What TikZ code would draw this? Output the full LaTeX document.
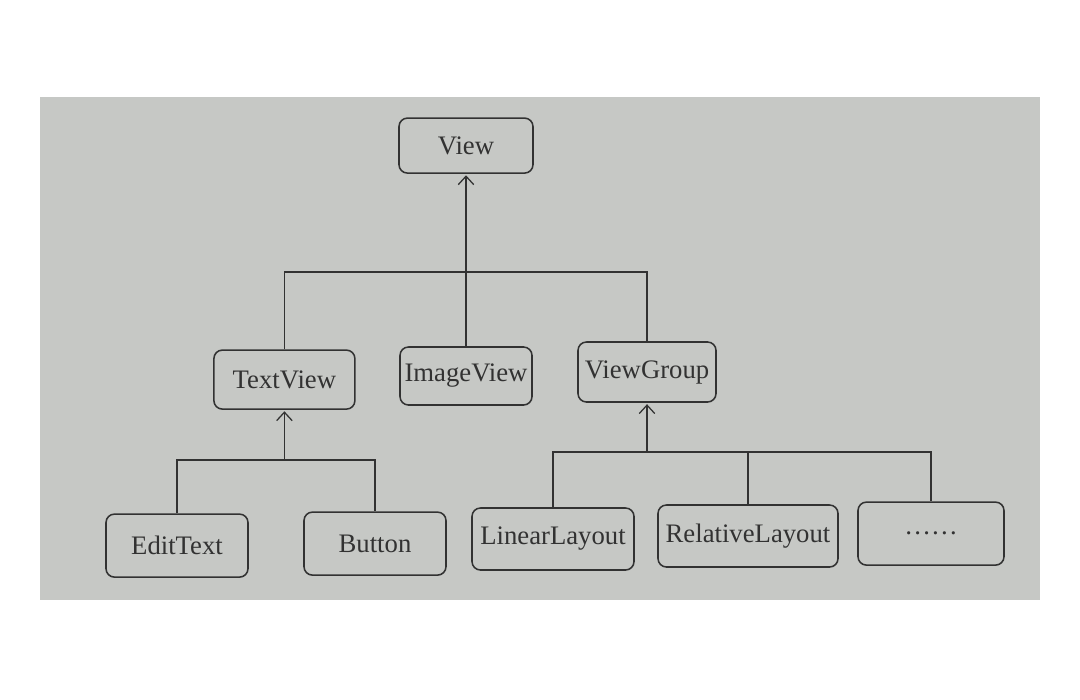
\documentclass[tikz,border=0pt]{standalone}
\usepackage{fontspec}
\setmainfont{Liberation Serif}
\usepackage{xcolor}
\definecolor{pagegray}{RGB}{198,200,197}
\definecolor{inkgray}{RGB}{50,50,50}
\usetikzlibrary{arrows.meta}

\begin{document}
\begin{tikzpicture}[>={Straight Barb[length=6pt,width=11pt]},
      thick,line width=0.9pt,draw=inkgray,
      class node/.style={draw=inkgray,line width=1.1pt,rounded corners=6pt,
        text=inkgray,font=\fontsize{19}{21}\selectfont,inner sep=0pt}]
    \useasboundingbox (0,0) rectangle (27,-17.5);
    \fill[pagegray] (1,-2.425) rectangle (26,-15);
    \node[class node,minimum width=3.35cm,minimum height=1.375cm] (View) at (11.65,-3.64) {View};
    \node[class node,minimum width=3.525cm,minimum height=1.475cm] (TV) at (7.11,-9.49) {TextView};
    \node[class node,minimum width=3.3cm,minimum height=1.45cm] (IV) at (11.65,-9.4) {ImageView};
    \node[class node,minimum width=3.45cm,minimum height=1.5cm] (VG) at (16.175,-9.3) {ViewGroup};
    \node[class node,minimum width=3.55cm,minimum height=1.575cm] (ET) at (4.425,-13.64) {EditText};
    \node[class node,minimum width=3.55cm,minimum height=1.575cm] (Bt) at (9.375,-13.59) {Button};
    \node[class node,minimum width=4.05cm,minimum height=1.55cm] (LL) at (13.825,-13.475) {LinearLayout};
    \node[class node,minimum width=4.5cm,minimum height=1.55cm] (RL) at (18.7,-13.4) {RelativeLayout};
    \node[class node,minimum width=3.65cm,minimum height=1.575cm] (More) at (23.275,-13.34) {\ldots\ldots};
    \coordinate (jV) at (11.65,-6.8);
    \coordinate (jTV) at (7.11,-11.5);
    \coordinate (jVG) at (16.175,-11.3);
    \draw[inkgray] (TV.north) |- (jV) -| (VG.north);
    \draw[inkgray,->,shorten >=1pt] (IV.north) -- (View.south);
    \draw[inkgray] (ET.north) |- (jTV) -| (Bt.north);
    \draw[inkgray,->,shorten >=1pt] (jTV) -- (TV.south);
    \draw[inkgray] (LL.north) |- (jVG) -| (More.north);
    \draw[inkgray] (RL.north) -- (RL.north |- jVG);
    \draw[inkgray,->,shorten >=1pt] (jVG) -- (VG.south);
  \end{tikzpicture}
\end{document}
